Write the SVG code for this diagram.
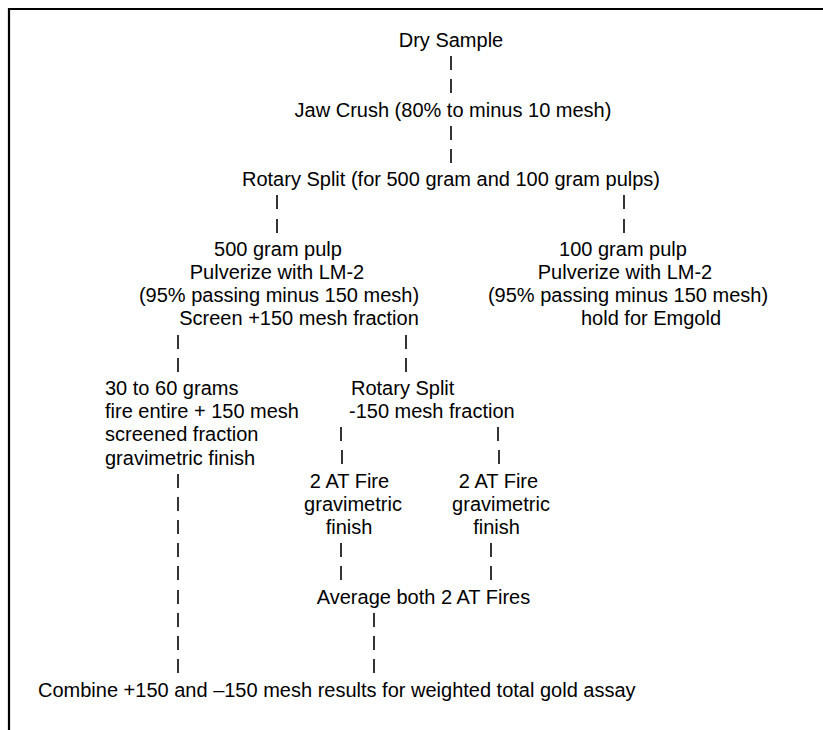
<svg xmlns="http://www.w3.org/2000/svg" width="823" height="730" viewBox="0 0 823 730">
<style>
  text { font-family: "Liberation Sans", Arial, sans-serif; font-size: 20px; fill: #000; }
  .c { text-anchor: middle; }
  .bar { stroke: #000; stroke-width: 1.6; }
</style>
<rect x="0" y="0" width="823" height="730" fill="#fff"/>
<path d="M9 730 V9 H823" fill="none" stroke="#000" stroke-width="2.2"/>
<g id="connectors">
  <!-- row centre y = 40 + 23.2*n ; bar spans cap height -->
  <line class="bar" x1="451" y1="56" x2="451" y2="70"/>
  <line class="bar" x1="451" y1="79" x2="451" y2="93"/>
  <line class="bar" x1="451" y1="126" x2="451" y2="140"/>
  <line class="bar" x1="451" y1="149" x2="451" y2="163"/>
  <line class="bar" x1="277" y1="195" x2="277" y2="209"/>
  <line class="bar" x1="277" y1="219" x2="277" y2="233"/>
  <line class="bar" x1="624" y1="195" x2="624" y2="209"/>
  <line class="bar" x1="624" y1="219" x2="624" y2="233"/>
  <line class="bar" x1="178" y1="335" x2="178" y2="349"/>
  <line class="bar" x1="178" y1="358" x2="178" y2="372"/>
  <line class="bar" x1="406" y1="335" x2="406" y2="349"/>
  <line class="bar" x1="406" y1="358" x2="406" y2="372"/>
  <line class="bar" x1="341" y1="427" x2="341" y2="441"/>
  <line class="bar" x1="342" y1="450" x2="342" y2="464"/>
  <line class="bar" x1="498" y1="427" x2="498" y2="441"/>
  <line class="bar" x1="499" y1="450" x2="499" y2="464"/>
  <line class="bar" x1="178" y1="474" x2="178" y2="488"/>
  <line class="bar" x1="178" y1="497" x2="178" y2="511"/>
  <line class="bar" x1="178" y1="520" x2="178" y2="534"/>
  <line class="bar" x1="178" y1="543" x2="178" y2="557"/>
  <line class="bar" x1="178" y1="566" x2="178" y2="580"/>
  <line class="bar" x1="178" y1="590" x2="178" y2="604"/>
  <line class="bar" x1="178" y1="613" x2="178" y2="627"/>
  <line class="bar" x1="178" y1="636" x2="178" y2="650"/>
  <line class="bar" x1="178" y1="659" x2="178" y2="673"/>
  <line class="bar" x1="341" y1="543" x2="341" y2="557"/>
  <line class="bar" x1="341" y1="566" x2="341" y2="580"/>
  <line class="bar" x1="491" y1="543" x2="491" y2="557"/>
  <line class="bar" x1="491" y1="566" x2="491" y2="580"/>
  <line class="bar" x1="374" y1="613" x2="374" y2="627"/>
  <line class="bar" x1="374" y1="636" x2="374" y2="650"/>
  <line class="bar" x1="374" y1="659" x2="374" y2="673"/>
</g>
<g id="dry-sample"><text class="c" x="451" y="47">Dry Sample</text></g>
<g id="jaw-crush"><text class="c" x="453" y="117">Jaw Crush (80% to minus 10 mesh)</text></g>
<g id="rotary-split-1"><text class="c" x="451" y="186">Rotary Split (for 500 gram and 100 gram pulps)</text></g>
<g id="pulp-500">
  <text class="c" x="278" y="256">500 gram pulp</text>
  <text class="c" x="277" y="279">Pulverize with LM-2</text>
  <text class="c" x="279" y="302">(95% passing minus 150 mesh)</text>
  <text class="c" x="299" y="325">Screen +150 mesh fraction</text>
</g>
<g id="pulp-100">
  <text class="c" x="623" y="256">100 gram pulp</text>
  <text class="c" x="625" y="279">Pulverize with LM-2</text>
  <text class="c" x="628" y="302">(95% passing minus 150 mesh)</text>
  <text class="c" x="651" y="325">hold for Emgold</text>
</g>
<g id="plus-150">
  <text x="105" y="395">30 to 60 grams</text>
  <text x="105" y="418">fire entire + 150 mesh</text>
  <text x="105" y="441">screened fraction</text>
  <text x="105" y="465">gravimetric finish</text>
</g>
<g id="rotary-split-2">
  <text x="351" y="395">Rotary Split</text>
  <text x="349" y="418"> -150 mesh fraction</text>
</g>
<g id="fire-a">
  <text class="c" x="349.5" y="488">2 AT Fire</text>
  <text class="c" x="353" y="511">gravimetric</text>
  <text class="c" x="349" y="534">finish</text>
</g>
<g id="fire-b">
  <text class="c" x="498.5" y="488">2 AT Fire</text>
  <text class="c" x="501" y="511">gravimetric</text>
  <text class="c" x="496.5" y="534">finish</text>
</g>
<g id="average"><text class="c" x="423.5" y="604">Average both 2 AT Fires</text></g>
<g id="combine"><text x="38" y="697">Combine +150 and –150 mesh results for weighted total gold assay</text></g>
</svg>
